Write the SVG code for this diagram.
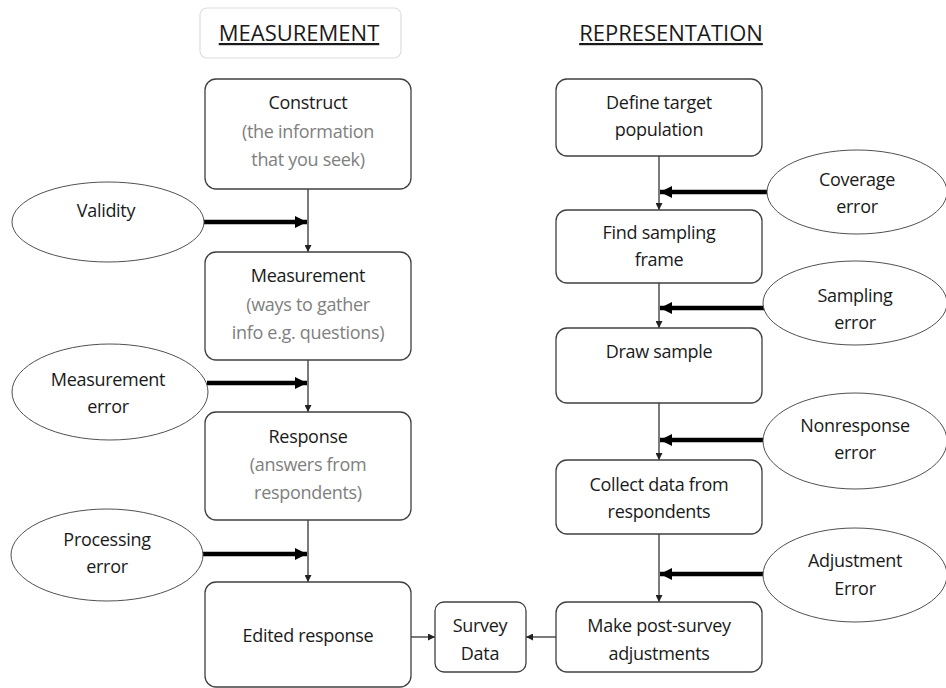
<svg xmlns="http://www.w3.org/2000/svg" width="946" height="688" viewBox="0 0 946 688">
<defs>
<style>
text{font-family:"Open Sans","Noto Sans","DejaVu Sans",sans-serif;font-size:18px;fill:#1a1a1a;text-anchor:middle;letter-spacing:-0.3px}
.sub{fill:#808080}
.title{text-decoration:underline;font-size:22px;letter-spacing:0}
.box{fill:#fff;stroke:#404040;stroke-width:1.3}
.ell{fill:#fff;stroke:#505050;stroke-width:1}
.thin{stroke:#333;stroke-width:1.3;fill:none}
.thick{stroke:#000;stroke-width:4.5;fill:none}
</style>
<marker id="ah" viewBox="0 0 10 10" refX="10" refY="5" markerWidth="7" markerHeight="7" markerUnits="userSpaceOnUse" orient="auto"><path d="M0,0L10,5L0,10z" fill="#222"/></marker>
<marker id="ahb" viewBox="0 0 10 10" refX="10" refY="5" markerWidth="12" markerHeight="12" markerUnits="userSpaceOnUse" orient="auto"><path d="M0,0L10,5L0,10z" fill="#000"/></marker>
</defs>
<rect width="946" height="688" fill="#fff"/>
<g id="title-measurement"><rect x="200" y="8" width="201" height="50" rx="7" fill="#fff" stroke="#ddd" stroke-width="1.2"/><text class="title" x="299" y="41">MEASUREMENT</text></g>
<g id="title-representation"><text class="title" x="671" y="41">REPRESENTATION</text></g>
<g id="connectors">
<line class="thin" x1="308" y1="189" x2="308" y2="252" marker-end="url(#ah)"/>
<line class="thin" x1="308" y1="360" x2="308" y2="412" marker-end="url(#ah)"/>
<line class="thin" x1="308" y1="520" x2="308" y2="582" marker-end="url(#ah)"/>
<line class="thin" x1="659" y1="156" x2="659" y2="210" marker-end="url(#ah)"/>
<line class="thin" x1="659" y1="283" x2="659" y2="328" marker-end="url(#ah)"/>
<line class="thin" x1="659" y1="403" x2="659" y2="460" marker-end="url(#ah)"/>
<line class="thin" x1="659" y1="534" x2="659" y2="602" marker-end="url(#ah)"/>
<line class="thin" x1="411" y1="637" x2="435" y2="637" marker-end="url(#ah)"/>
<line class="thin" x1="556" y1="637" x2="526" y2="637" marker-end="url(#ah)"/>
<line class="thick" x1="204" y1="222" x2="307" y2="222" marker-end="url(#ahb)"/>
<line class="thick" x1="207" y1="383" x2="307" y2="383" marker-end="url(#ahb)"/>
<line class="thick" x1="203" y1="554" x2="307" y2="554" marker-end="url(#ahb)"/>
<line class="thick" x1="767" y1="192" x2="660" y2="192" marker-end="url(#ahb)"/>
<line class="thick" x1="764" y1="308" x2="660" y2="308" marker-end="url(#ahb)"/>
<line class="thick" x1="763" y1="440" x2="660" y2="440" marker-end="url(#ahb)"/>
<line class="thick" x1="763" y1="574" x2="660" y2="574" marker-end="url(#ahb)"/>
</g>
<g id="construct"><rect class="box" x="205" y="79" width="206" height="110" rx="11"/><text x="308" y="109">Construct</text><text class="sub" x="308" y="138">(the information</text><text class="sub" x="308" y="166">that you seek)</text></g>
<g id="measurement"><rect class="box" x="205" y="252" width="206" height="108" rx="11"/><text x="308" y="282">Measurement</text><text class="sub" x="308" y="311">(ways to gather</text><text class="sub" x="308" y="339">info e.g. questions)</text></g>
<g id="response"><rect class="box" x="205" y="412" width="206" height="108" rx="11"/><text x="308" y="443">Response</text><text class="sub" x="308" y="471">(answers from</text><text class="sub" x="308" y="499">respondents)</text></g>
<g id="edited-response"><rect class="box" x="205" y="582" width="206" height="105" rx="11"/><text x="308" y="642">Edited response</text></g>
<g id="survey-data"><rect class="box" x="435" y="602" width="91" height="70" rx="9"/><text x="480" y="632">Survey</text><text x="480" y="660">Data</text></g>
<g id="define-target"><rect class="box" x="556" y="79" width="206" height="77" rx="11"/><text x="659" y="109">Define target</text><text x="659" y="136">population</text></g>
<g id="find-frame"><rect class="box" x="556" y="210" width="206" height="73" rx="11"/><text x="659" y="239">Find sampling</text><text x="659" y="266">frame</text></g>
<g id="draw-sample"><rect class="box" x="556" y="328" width="206" height="75" rx="11"/><text x="659" y="358">Draw sample</text></g>
<g id="collect-data"><rect class="box" x="556" y="460" width="206" height="74" rx="11"/><text x="659" y="491">Collect data from</text><text x="659" y="518">respondents</text></g>
<g id="post-survey"><rect class="box" x="556" y="602" width="206" height="70" rx="11"/><text x="659" y="632">Make post-survey</text><text x="659" y="660">adjustments</text></g>
<g id="validity"><ellipse class="ell" cx="108" cy="222" rx="96" ry="40"/><text x="106" y="217">Validity</text></g>
<g id="measurement-error"><ellipse class="ell" cx="110" cy="392" rx="98" ry="48"/><text x="108" y="386">Measurement</text><text x="108" y="413">error</text></g>
<g id="processing-error"><ellipse class="ell" cx="107" cy="555" rx="96" ry="46"/><text x="107" y="546">Processing</text><text x="107" y="573">error</text></g>
<g id="coverage-error"><ellipse class="ell" cx="857" cy="192" rx="90" ry="42"/><text x="857" y="186">Coverage</text><text x="857" y="213">error</text></g>
<g id="sampling-error"><ellipse class="ell" cx="855" cy="303" rx="92" ry="42"/><text x="855" y="302">Sampling</text><text x="855" y="329">error</text></g>
<g id="nonresponse-error"><ellipse class="ell" cx="855" cy="441" rx="92" ry="48"/><text x="855" y="432">Nonresponse</text><text x="855" y="459">error</text></g>
<g id="adjustment-error"><ellipse class="ell" cx="855" cy="575" rx="92" ry="47"/><text x="855" y="567">Adjustment</text><text x="855" y="595">Error</text></g>
</svg>
